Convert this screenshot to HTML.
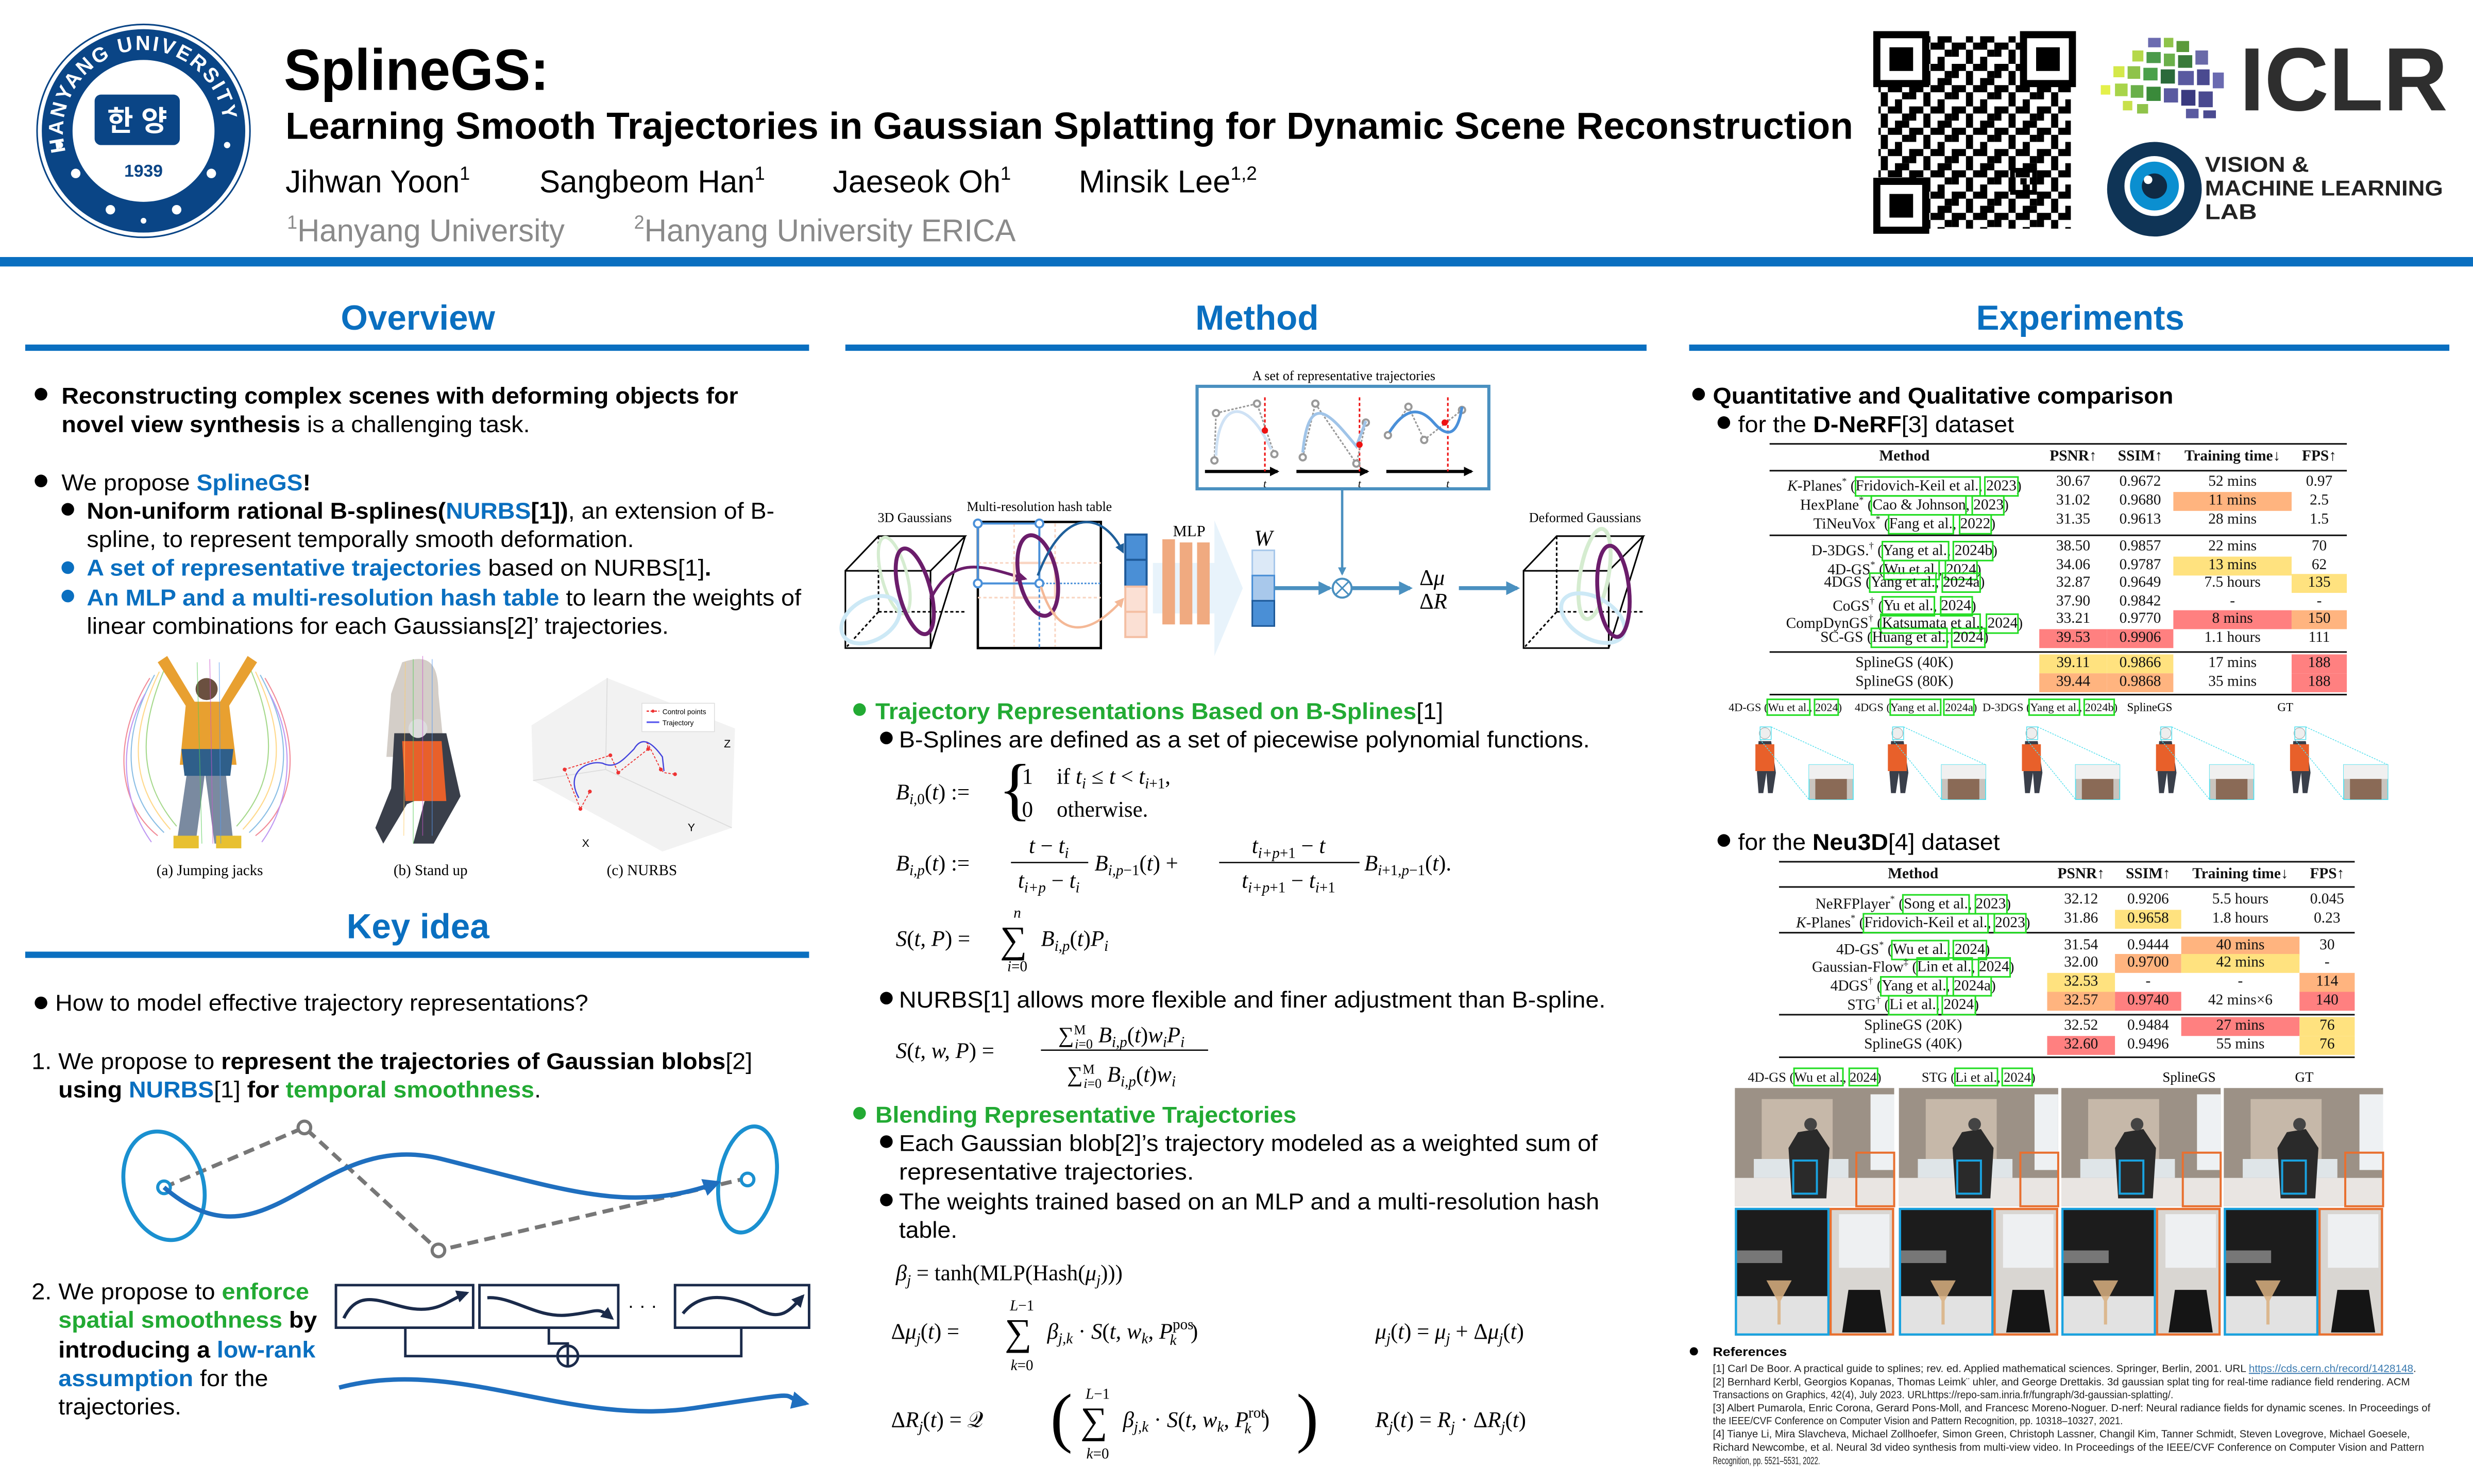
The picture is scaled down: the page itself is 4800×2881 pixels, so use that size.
<!DOCTYPE html>
<html><head><meta charset="utf-8">
<style>
html,body{margin:0;padding:0;background:#fff;}
body{width:4800px;height:2880px;overflow:hidden;position:relative;}
#s{position:absolute;left:0;top:0;width:1568px;height:941px;transform:scale(3.061224);transform-origin:0 0;}
svg{position:absolute;left:0;top:0;}
.r{position:absolute;height:12px;line-height:12px;font-family:"Liberation Serif",serif;font-size:9.6px;color:#111;}
.c{position:absolute;top:0;height:12px;text-align:center;white-space:nowrap;}
.g{outline:0.9px solid #22dd22;outline-offset:-0.3px;}
.o{background:#ffb47f}.y{background:#ffe27f}.d{background:#ff8080}
.h{font-weight:bold;}
.rule{position:absolute;background:#111;}
</style></head><body>
<div id="s">
<svg width="1568" height="941" viewBox="0 0 1568 941" font-family="Liberation Sans, sans-serif">
<defs>
<marker id="ab" viewBox="0 0 10 10" refX="8" refY="5" markerWidth="4" markerHeight="4" orient="auto"><path d="M0 0L10 5L0 10z" fill="#1f6fbf"/></marker>
<marker id="ak" viewBox="0 0 10 10" refX="8" refY="5" markerWidth="4" markerHeight="4" orient="auto"><path d="M0 0L10 5L0 10z" fill="#1a2a4a"/></marker>
<marker id="as" viewBox="0 0 10 10" refX="8" refY="5" markerWidth="3.5" markerHeight="3.5" orient="auto"><path d="M0 0L10 5L0 10z" fill="#4a90c0"/></marker>
<marker id="ap" viewBox="0 0 10 10" refX="8" refY="5" markerWidth="4" markerHeight="4" orient="auto"><path d="M0 0L10 5L0 10z" fill="#6b1d6b"/></marker>
<marker id="ad" viewBox="0 0 10 10" refX="8" refY="5" markerWidth="4" markerHeight="4" orient="auto"><path d="M0 0L10 5L0 10z" fill="#1f5f9a"/></marker>
<marker id="apc" viewBox="0 0 10 10" refX="8" refY="5" markerWidth="4" markerHeight="4" orient="auto"><path d="M0 0L10 5L0 10z" fill="#f4b896"/></marker>
<marker id="atk" viewBox="0 0 10 10" refX="8" refY="5" markerWidth="3" markerHeight="3" orient="auto"><path d="M0 0L10 5L0 10z" fill="#000"/></marker>
<pattern id="qr" width="27" height="27" patternUnits="userSpaceOnUse">
<rect x="0" y="0" width="4.5" height="4.5"/><rect x="9" y="0" width="9" height="4.5"/><rect x="22.5" y="0" width="4.5" height="9"/>
<rect x="4.5" y="4.5" width="4.5" height="9"/><rect x="13.5" y="9" width="4.5" height="4.5"/><rect x="18" y="4.5" width="4.5" height="4.5"/>
<rect x="0" y="13.5" width="4.5" height="4.5"/><rect x="9" y="13.5" width="9" height="4.5"/><rect x="22.5" y="13.5" width="4.5" height="9"/>
<rect x="4.5" y="18" width="4.5" height="9"/><rect x="13.5" y="22.5" width="9" height="4.5"/><rect x="18" y="18" width="4.5" height="4.5"/>
</pattern>
<path id="arc" d="M43 100 A51 51 0 1 1 139 100"/>
</defs>

<!-- ===== HEADER ===== -->
<circle cx="91" cy="83" r="67.5" fill="#fff" stroke="#0a4586" stroke-width="1"/>
<circle cx="91" cy="83" r="64.5" fill="#0a4586"/>
<circle cx="91" cy="83" r="45" fill="#fff"/>
<text font-size="13" font-weight="bold" fill="#fff" letter-spacing="1.2"><textPath href="#arc" startOffset="4">HANYANG UNIVERSITY</textPath></text>
<rect x="60" y="60" width="54" height="32" rx="4" fill="#0a4586"/>
<text x="87" y="83" text-anchor="middle" font-size="18" font-weight="bold" fill="#fff" font-family="Liberation Sans, Noto Sans CJK KR, sans-serif">한 양</text>
<text x="91" y="112" text-anchor="middle" font-size="11" font-weight="bold" fill="#0a4586">1939</text>
<g fill="#fff"><circle cx="48" cy="110" r="3"/><circle cx="134" cy="110" r="3"/><circle cx="70" cy="133" r="3"/><circle cx="112" cy="133" r="3"/><circle cx="91" cy="140" r="1.8"/><circle cx="38" cy="92" r="2"/><circle cx="144" cy="92" r="2"/></g>

<text x="180" y="57" font-size="37" font-weight="bold" textLength="168" lengthAdjust="spacingAndGlyphs">SplineGS:</text>
<text x="181" y="88" font-size="24" font-weight="bold" textLength="994" lengthAdjust="spacingAndGlyphs">Learning Smooth Trajectories in Gaussian Splatting for Dynamic Scene Reconstruction</text>
<g font-size="20">
<text x="181" y="122" textLength="117" lengthAdjust="spacingAndGlyphs">Jihwan Yoon<tspan font-size="12" dy="-8">1</tspan></text>
<text x="342" y="122" textLength="143" lengthAdjust="spacingAndGlyphs">Sangbeom Han<tspan font-size="12" dy="-8">1</tspan></text>
<text x="528" y="122" textLength="113" lengthAdjust="spacingAndGlyphs">Jaeseok Oh<tspan font-size="12" dy="-8">1</tspan></text>
<text x="684" y="122" textLength="113" lengthAdjust="spacingAndGlyphs">Minsik Lee<tspan font-size="12" dy="-8">1,2</tspan></text>
</g>
<g font-size="20" fill="#8a8a8a">
<text x="182" y="153" textLength="176" lengthAdjust="spacingAndGlyphs"><tspan font-size="12" dy="-8">1</tspan><tspan dy="8">Hanyang University</tspan></text>
<text x="402" y="153" textLength="242" lengthAdjust="spacingAndGlyphs"><tspan font-size="12" dy="-8">2</tspan><tspan dy="8">Hanyang University ERICA</tspan></text>
</g>

<!-- QR -->
<rect x="1188" y="20" width="128" height="128" fill="#fff"/>
<rect x="1191" y="23" width="122" height="122" fill="url(#qr)"/>
<g>
<rect x="1189" y="21" width="33" height="33" fill="#fff"/><rect x="1190" y="22" width="31" height="31" fill="none" stroke="#000" stroke-width="4.5"/><rect x="1198" y="30" width="15" height="15"/>
<rect x="1282" y="21" width="33" height="33" fill="#fff"/><rect x="1283" y="22" width="31" height="31" fill="none" stroke="#000" stroke-width="4.5"/><rect x="1291" y="30" width="15" height="15"/>
<rect x="1189" y="114" width="33" height="33" fill="#fff"/><rect x="1190" y="115" width="31" height="31" fill="none" stroke="#000" stroke-width="4.5"/><rect x="1198" y="123" width="15" height="15"/>
<rect x="1276" y="108" width="14" height="14" fill="none" stroke="#000" stroke-width="3"/><rect x="1281" y="113" width="4" height="4"/>
</g>

<!-- ICLR -->
<g>
<rect x="1362" y="24" width="8" height="6" fill="#6b6bb0"/><rect x="1372" y="24" width="6" height="6" fill="#8fc34a"/><rect x="1380" y="26" width="8" height="7" fill="#5a9a3a"/>
<rect x="1352" y="32" width="7" height="7" fill="#b5d84a"/><rect x="1361" y="33" width="9" height="7" fill="#4a9a4a"/><rect x="1372" y="34" width="7" height="8" fill="#6ab04a"/><rect x="1381" y="35" width="9" height="8" fill="#3a7a3a"/><rect x="1392" y="32" width="8" height="9" fill="#6a6aa8"/>
<rect x="1340" y="42" width="7" height="7" fill="#d4e84a"/><rect x="1349" y="42" width="8" height="8" fill="#8fc34a"/><rect x="1359" y="43" width="9" height="8" fill="#4aa04a"/><rect x="1370" y="44" width="9" height="9" fill="#2a6a3a"/><rect x="1381" y="45" width="10" height="9" fill="#5a5aa0"/><rect x="1393" y="44" width="8" height="10" fill="#4a4a90"/><rect x="1403" y="46" width="7" height="10" fill="#6a6ab0"/>
<rect x="1332" y="54" width="6" height="6" fill="#e4f04a"/><rect x="1341" y="53" width="8" height="8" fill="#a8d44a"/><rect x="1351" y="54" width="8" height="8" fill="#6ab04a"/><rect x="1361" y="55" width="9" height="9" fill="#3a8a3a"/><rect x="1372" y="56" width="9" height="9" fill="#5a5aa0"/><rect x="1383" y="57" width="9" height="10" fill="#3a3a80"/><rect x="1394" y="58" width="9" height="10" fill="#4a4a90"/>
<rect x="1346" y="64" width="6" height="6" fill="#c8e04a"/><rect x="1355" y="66" width="7" height="6" fill="#8fc34a"/><rect x="1386" y="69" width="8" height="6" fill="#5a5aa0"/><rect x="1397" y="70" width="8" height="5" fill="#4a4a90"/>
</g>
<text x="1420" y="70" font-size="57" font-weight="bold" fill="#2e2e2e" textLength="132" lengthAdjust="spacingAndGlyphs">ICLR</text>
<!-- VML -->
<circle cx="1366" cy="120" r="30" fill="#0f3456"/>
<circle cx="1366" cy="118" r="19" fill="#fff"/>
<circle cx="1366" cy="118" r="15.5" fill="#0b8fd0"/>
<circle cx="1366" cy="118" r="8" fill="#0f2a44"/>
<circle cx="1362" cy="114" r="2.7" fill="#fff"/>
<g font-size="13.5" font-weight="bold" fill="#222">
<text x="1398" y="109" textLength="66" lengthAdjust="spacingAndGlyphs">VISION &amp;</text>
<text x="1398" y="124" textLength="151" lengthAdjust="spacingAndGlyphs">MACHINE LEARNING</text>
<text x="1398" y="139" textLength="33" lengthAdjust="spacingAndGlyphs">LAB</text>
</g>

<rect x="0" y="163" width="1568" height="6" fill="#0a6fc0"/>

<!-- headings -->
<g font-size="22" font-weight="bold" fill="#0a6fc0" text-anchor="middle">
<text x="265" y="209">Overview</text>
<text x="797" y="209">Method</text>
<text x="1319" y="209">Experiments</text>
<text x="265" y="595">Key idea</text>
</g>
<g fill="#0a6fc0">
<rect x="16" y="218.5" width="497" height="4"/>
<rect x="536" y="218.5" width="508" height="4"/>
<rect x="1071" y="218.5" width="482" height="4"/>
<rect x="16" y="603.5" width="497" height="4"/>
</g>

<!-- ===== OVERVIEW TEXT ===== -->
<g font-size="14.5">
<circle cx="26" cy="250" r="4"/>
<text x="39" y="256" font-weight="bold" textLength="429" lengthAdjust="spacingAndGlyphs">Reconstructing complex scenes with deforming objects for</text>
<text x="39" y="274" textLength="297" lengthAdjust="spacingAndGlyphs"><tspan font-weight="bold">novel view synthesis</tspan> is a challenging task.</text>
<circle cx="26" cy="305" r="4"/>
<text x="39" y="311" textLength="158" lengthAdjust="spacingAndGlyphs">We propose <tspan font-weight="bold" fill="#0a6fc0">SplineGS</tspan><tspan font-weight="bold">!</tspan></text>
<circle cx="43" cy="323" r="4"/>
<text x="55" y="329" textLength="436" lengthAdjust="spacingAndGlyphs"><tspan font-weight="bold">Non-uniform rational B-splines(</tspan><tspan font-weight="bold" fill="#0a6fc0">NURBS</tspan><tspan font-weight="bold">[1])</tspan>, an extension of B-</text>
<text x="55" y="347" textLength="347" lengthAdjust="spacingAndGlyphs">spline, to represent temporally smooth deformation.</text>
<circle cx="43" cy="360" r="4" fill="#0a6fc0"/>
<text x="55" y="365" textLength="396" lengthAdjust="spacingAndGlyphs"><tspan font-weight="bold" fill="#0a6fc0">A set of representative trajectories</tspan> based on NURBS[1]<tspan font-weight="bold">.</tspan></text>
<circle cx="43" cy="378" r="4" fill="#0a6fc0"/>
<text x="55" y="384" textLength="453" lengthAdjust="spacingAndGlyphs"><tspan font-weight="bold" fill="#0a6fc0">An MLP and a multi-resolution hash table</tspan> to learn the weights of</text>
<text x="55" y="402" textLength="369" lengthAdjust="spacingAndGlyphs">linear combinations for each Gaussians[2]’ trajectories.</text>
</g>

<!-- figures (a) (b) (c) -->
<g fill="none" stroke-width="0.7" opacity="0.75">
<path d="M95 430 C70 470 75 510 100 530" stroke="#e67"/><path d="M98 428 C75 470 80 505 104 528" stroke="#6ad"/>
<path d="M101 426 C80 470 85 500 108 526" stroke="#fc6"/><path d="M104 425 C86 468 90 498 112 524" stroke="#8c6"/>
<path d="M92 440 C72 475 80 512 96 534" stroke="#a7e"/><path d="M168 430 C192 470 188 510 162 530" stroke="#e67"/>
<path d="M165 428 C188 470 183 505 158 528" stroke="#6ad"/><path d="M162 426 C183 470 178 500 154 526" stroke="#fc6"/>
<path d="M159 425 C177 468 173 498 150 524" stroke="#8c6"/><path d="M171 440 C190 475 182 512 166 534" stroke="#a7e"/>
</g>
<g>
<path d="M120 480 L112 535 L124 535 L130 490 L136 535 L148 535 L142 480z" fill="#7a8aa0"/>
<path d="M118 445 L145 445 L150 485 L114 485z" fill="#e8a030"/>
<path d="M118 448 L100 420 L106 416 L124 446z" fill="#e8a030"/>
<path d="M145 448 L163 420 L157 416 L139 446z" fill="#e8a030"/>
<circle cx="131" cy="437" r="7" fill="#6b5040"/>
<path d="M115 475 L148 475 L146 492 L117 492z" fill="#2f5f8a"/>
<rect x="110" y="530" width="16" height="8" fill="#e8c030"/><rect x="137" y="530" width="16" height="8" fill="#e8c030"/>
<g stroke-width="0.5" opacity="0.6"><line x1="125" y1="420" x2="128" y2="535" stroke="#5c5"/><line x1="133" y1="418" x2="135" y2="535" stroke="#c5c"/><line x1="139" y1="420" x2="140" y2="535" stroke="#59e"/></g>
</g>
<g>
<path d="M255 420 C270 415 278 418 278 440 L282 480 L245 480 L248 440z" fill="#c9c2ba" opacity="0.8"/>
<path d="M250 465 L283 465 L292 505 L275 535 L262 535 L270 505 L258 510 L243 535 L238 525 L248 500z" fill="#3a3f4a"/>
<path d="M255 470 L280 470 L283 508 L257 508z" fill="#e8602a"/>
<circle cx="265" cy="462" r="6" fill="#ddd"/>
<g stroke-width="0.5" opacity="0.6"><line x1="262" y1="418" x2="262" y2="535" stroke="#5c5"/><line x1="268" y1="416" x2="268" y2="530" stroke="#c5c"/><line x1="274" y1="418" x2="274" y2="530" stroke="#59e"/><line x1="257" y1="420" x2="256" y2="530" stroke="#fc6"/></g>
</g>
<g>
<polygon points="337,460 385,430 466,462 464,525 420,540 338,495" fill="#f2f2f2"/>
<polyline points="385,430 384,488 338,495" fill="none" stroke="#ddd" stroke-width="0.6"/>
<line x1="384" y1="488" x2="464" y2="525" stroke="#ddd" stroke-width="0.6"/>
<rect x="407" y="446" width="46" height="18" fill="#fff" stroke="#ddd" stroke-width="0.5"/>
<line x1="410" y1="451" x2="418" y2="451" stroke="#e33" stroke-dasharray="1.5 1" stroke-width="0.8"/><circle cx="414" cy="451" r="1" fill="#e33"/>
<line x1="410" y1="458" x2="418" y2="458" stroke="#55e" stroke-width="1"/>
<text x="420" y="453" font-size="4.5">Control points</text><text x="420" y="460" font-size="4.5">Trajectory</text>
<polyline points="358,488 387,479 392,490 411,475 410,470 419,488 421,490 428,491" fill="none" stroke="#e33" stroke-width="0.6" stroke-dasharray="1.5 1"/>
<polyline points="358,488 368,513 374,502" fill="none" stroke="#e33" stroke-width="0.6" stroke-dasharray="1.5 1"/>
<g fill="#e33"><circle cx="358" cy="488" r="1.2"/><circle cx="387" cy="479" r="1.2"/><circle cx="392" cy="490" r="1.2"/><circle cx="411" cy="475" r="1.2"/><circle cx="419" cy="488" r="1.2"/><circle cx="428" cy="491" r="1.2"/><circle cx="368" cy="513" r="1.2"/><circle cx="374" cy="502" r="1.2"/></g>
<path d="M367 506 C358 490 372 482 382 484 C390 488 395 482 402 475 C405 470 410 466 420 480 L421 489" fill="none" stroke="#44d" stroke-width="0.8"/>
<text x="459" y="474" font-size="7">Z</text><text x="436" y="527" font-size="7">Y</text><text x="369" y="537" font-size="7">X</text>
</g>
<g font-family="Liberation Serif, serif" font-size="9.5" text-anchor="middle">
<text x="133" y="555">(a) Jumping jacks</text>
<text x="273" y="555">(b) Stand up</text>
<text x="407" y="555">(c) NURBS</text>
</g>

<!-- ===== KEY IDEA ===== -->
<g font-size="14.5">
<circle cx="26" cy="636" r="4"/>
<text x="35" y="641" textLength="338" lengthAdjust="spacingAndGlyphs">How to model effective trajectory representations?</text>
<text x="20" y="678" textLength="457" lengthAdjust="spacingAndGlyphs">1. We propose to <tspan font-weight="bold">represent the trajectories of Gaussian blobs</tspan>[2]</text>
<text x="37" y="696" textLength="306" lengthAdjust="spacingAndGlyphs"><tspan font-weight="bold">using </tspan><tspan font-weight="bold" fill="#0a6fc0">NURBS</tspan>[1] <tspan font-weight="bold">for </tspan><tspan font-weight="bold" fill="#22aa33">temporal smoothness</tspan>.</text>
<text x="20" y="824" textLength="176" lengthAdjust="spacingAndGlyphs">2. We propose to <tspan font-weight="bold" fill="#22aa33">enforce</tspan></text>
<text x="37" y="842" textLength="164" lengthAdjust="spacingAndGlyphs"><tspan font-weight="bold" fill="#22aa33">spatial smoothness</tspan><tspan font-weight="bold"> by</tspan></text>
<text x="37" y="861" textLength="163" lengthAdjust="spacingAndGlyphs"><tspan font-weight="bold">introducing a </tspan><tspan font-weight="bold" fill="#0a6fc0">low-rank</tspan></text>
<text x="37" y="879" textLength="133" lengthAdjust="spacingAndGlyphs"><tspan font-weight="bold" fill="#0a6fc0">assumption</tspan> for the</text>
<text x="37" y="897" textLength="78" lengthAdjust="spacingAndGlyphs">trajectories.</text>
</g>
<!-- key idea fig 1 -->
<polyline points="104,753 193,715 278,793 470,748" fill="none" stroke="#777" stroke-width="2.5" stroke-dasharray="7 4"/>
<circle cx="193" cy="715" r="4" fill="#fff" stroke="#777" stroke-width="2"/>
<circle cx="278" cy="793" r="4" fill="#fff" stroke="#777" stroke-width="2"/>
<ellipse cx="104" cy="752" rx="25" ry="35" transform="rotate(-15 104 752)" fill="none" stroke="#1a90d0" stroke-width="2.5"/>
<circle cx="104" cy="753" r="4" fill="#fff" stroke="#1a90d0" stroke-width="2"/>
<ellipse cx="474" cy="748" rx="18" ry="34" transform="rotate(10 474 748)" fill="none" stroke="#1a90d0" stroke-width="2.5"/>
<circle cx="474" cy="748" r="4" fill="#fff" stroke="#1a90d0" stroke-width="2"/>
<path d="M104 753 C 170 810, 200 715, 280 735 S 400 770, 455 750" fill="none" stroke="#1f6fbf" stroke-width="2.8" marker-end="url(#ab)"/>
<!-- key idea fig 2 -->
<g fill="none" stroke="#1a2a4a" stroke-width="1.6">
<rect x="213" y="815" width="87" height="27"/>
<rect x="304" y="815" width="88" height="27"/>
<rect x="428" y="815" width="85" height="27"/>
<path d="M218 836 C 228 815, 245 828, 262 830 S 285 824 296 820" stroke-width="2" marker-end="url(#ak)"/>
<path d="M309 823 C 325 822, 340 836, 360 834 S 378 828 388 836" stroke-width="2" marker-end="url(#ak)"/>
<path d="M433 833 C 445 818, 465 822, 480 830 S 500 832 509 822" stroke-width="2" marker-end="url(#ak)"/>
<polyline points="257,842 257,860 353,860"/>
<polyline points="348,842 348,852 360,852 360,853"/>
<polyline points="470,842 470,860 367,860"/>
<circle cx="360" cy="860" r="6.5"/>
<line x1="353.5" y1="860" x2="366.5" y2="860"/><line x1="360" y1="853.5" x2="360" y2="866.5"/>
</g>
<text x="398" y="832" font-size="12">· · ·</text>
<path d="M215 880 C 290 860, 360 905, 440 893 S 490 885 511 890" fill="none" stroke="#1f6fbf" stroke-width="2.8" marker-end="url(#ab)"/>

<!-- ===== METHOD DIAGRAM ===== -->
<g font-family="Liberation Serif, serif">
<text x="852" y="241" font-size="8.5" text-anchor="middle">A set of representative trajectories</text>
<rect x="759" y="245" width="185" height="65" fill="#fff" stroke="#4a90c0" stroke-width="2"/>
<g stroke="#000" stroke-width="2"><line x1="764" y1="299" x2="810" y2="299" marker-end="url(#atk)"/><line x1="822" y1="299" x2="867" y2="299" marker-end="url(#atk)"/><line x1="879" y1="299" x2="933" y2="299" marker-end="url(#atk)"/></g>
<g stroke="#e11" stroke-width="1" stroke-dasharray="2 1.5"><line x1="802" y1="252" x2="802" y2="299"/><line x1="862" y1="252" x2="862" y2="299"/><line x1="918" y1="252" x2="918" y2="299"/></g>
<g fill="none" stroke="#999" stroke-width="1" stroke-dasharray="1.5 1"><polyline points="770,292 771,262 797,256 808,288"/><polyline points="826,290 834,256 860,294 866,268"/><polyline points="880,276 893,258 903,279 927,260"/></g>
<g fill="#fff" stroke="#999" stroke-width="1.3"><circle cx="770" cy="292" r="2"/><circle cx="771" cy="262" r="2"/><circle cx="797" cy="256" r="2"/><circle cx="808" cy="288" r="2"/><circle cx="826" cy="290" r="2"/><circle cx="834" cy="256" r="2"/><circle cx="860" cy="294" r="2"/><circle cx="866" cy="268" r="2"/><circle cx="880" cy="276" r="2"/><circle cx="893" cy="258" r="2"/><circle cx="903" cy="279" r="2"/><circle cx="927" cy="260" r="2"/></g>
<path d="M771 289 C 772 255, 790 250, 806 285" fill="none" stroke="#cfe2f5" stroke-width="1.8"/>
<path d="M826 287 C 830 245, 845 265, 860 283 L 866 267" fill="none" stroke="#a0c4e8" stroke-width="1.8"/>
<path d="M881 274 Q 895 252 909 268 T 927 258" fill="none" stroke="#4a90d9" stroke-width="1.8"/>
<g fill="#e11"><circle cx="802" cy="273" r="2"/><circle cx="862" cy="282" r="2"/><circle cx="916" cy="268" r="2"/></g>
<g font-size="7" font-style="italic"><text x="801" y="309">t</text><text x="861" y="309">t</text><text x="917" y="309">t</text></g>
<line x1="851" y1="310" x2="851" y2="364" stroke="#4a90c0" stroke-width="1.5" marker-end="url(#as)"/>

<text x="580" y="331" font-size="8.5" text-anchor="middle">3D Gaussians</text>
<text x="659" y="324" font-size="8.5" text-anchor="middle">Multi-resolution hash table</text>
<text x="1005" y="331" font-size="8.5" text-anchor="middle">Deformed Gaussians</text>
<text x="754" y="340" font-size="10" text-anchor="middle">MLP</text>
<text x="801" y="346" font-size="14" font-style="italic" text-anchor="middle">W</text>
<text x="900" y="371" font-size="14">Δ<tspan font-style="italic">μ</tspan></text>
<text x="900" y="386" font-size="14">Δ<tspan font-style="italic">R</tspan></text>
</g>
<!-- left cube -->
<g fill="none" stroke="#000" stroke-width="1">
<rect x="536" y="362" width="54" height="49"/>
<polyline points="536,362 557,340 612,340 590,362"/>
<line x1="612" y1="340" x2="590" y2="411"/>
<line x1="557" y1="340" x2="557" y2="388" stroke-dasharray="2 1.5"/>
<line x1="557" y1="388" x2="612" y2="388" stroke-dasharray="2 1.5"/>
<line x1="557" y1="388" x2="537" y2="410" stroke-dasharray="2 1.5"/>
</g>
<ellipse cx="567" cy="365" rx="8" ry="25" transform="rotate(-15 567 365)" fill="none" stroke="#d5ecd0" stroke-width="2"/>
<ellipse cx="552" cy="393" rx="20" ry="13" transform="rotate(-30 552 393)" fill="none" stroke="#cde9f6" stroke-width="2.5"/>
<ellipse cx="580" cy="375" rx="10" ry="28" transform="rotate(-15 580 375)" fill="none" stroke="#6b1d6b" stroke-width="2.5"/>
<path d="M590 380 C 605 350, 625 360, 650 367" fill="none" stroke="#6b1d6b" stroke-width="1.8" marker-end="url(#ap)"/>
<!-- hash box -->
<rect x="620" y="331" width="78" height="80" fill="none" stroke="#000" stroke-width="1.5"/>
<g stroke="#f9d5c2" stroke-width="1" fill="none" stroke-dasharray="2 1.5"><line x1="643" y1="332" x2="643" y2="410"/><line x1="669" y1="332" x2="669" y2="410"/><line x1="620" y1="357" x2="698" y2="357"/><line x1="620" y1="379" x2="698" y2="379"/></g>
<rect x="643" y="357" width="26" height="22" fill="none" stroke="#f9d5c2" stroke-width="1.5"/>
<rect x="620" y="332" width="39" height="38" fill="none" stroke="#4a90d9" stroke-width="1.3"/>
<line x1="659" y1="370" x2="698" y2="370" stroke="#4a90d9" stroke-dasharray="1.2 1"/>
<line x1="659" y1="370" x2="659" y2="411" stroke="#4a90d9" stroke-dasharray="2 1.5"/>
<g fill="#fff" stroke="#4a90d9" stroke-width="1.3"><circle cx="620" cy="332" r="2.5"/><circle cx="659" cy="332" r="2.5"/><circle cx="620" cy="370" r="2.5"/><circle cx="659" cy="370" r="2.5"/></g>
<ellipse cx="658" cy="365" rx="12" ry="26" transform="rotate(-12 658 365)" fill="none" stroke="#6b1d6b" stroke-width="2.5"/>
<path d="M658 365 C 675 320, 700 325, 712 350" fill="none" stroke="#1f5f9a" stroke-width="1.5" marker-end="url(#ad)"/>
<path d="M660 372 C 670 405, 690 405, 712 380" fill="none" stroke="#f4b896" stroke-width="1.5" marker-end="url(#apc)"/>
<!-- columns -->
<rect x="713.5" y="339" width="13.5" height="33" fill="#4a8fd6" stroke="#1e5a9a" stroke-width="1.3"/>
<line x1="713.5" y1="355" x2="727" y2="355" stroke="#1e5a9a" stroke-width="1.3"/>
<rect x="713.5" y="372" width="13.5" height="32" fill="#fbe0d4" stroke="#f4bfa3" stroke-width="1.3"/>
<line x1="713.5" y1="388" x2="727" y2="388" stroke="#f4bfa3" stroke-width="1.3"/>
<polygon points="731,357 770,357 770,330 788,373 770,416 770,389 731,389" fill="#e8f3fb"/>
<g fill="#f0aa80"><rect x="737" y="342" width="8" height="54"/><rect x="748" y="344" width="8" height="52"/><rect x="759" y="344" width="8" height="52"/></g>
<rect x="794" y="349" width="14" height="16" fill="#dce9f7" stroke="#a8c8eb"/>
<rect x="794" y="365" width="14" height="16" fill="#a8c8eb" stroke="#4a8fd6"/>
<rect x="794" y="381" width="14" height="16" fill="#4a8fd6" stroke="#1e5a9a"/>
<g stroke="#4a90c0" stroke-width="2.5" fill="none">
<line x1="808" y1="373" x2="843" y2="373" marker-end="url(#as)"/>
<line x1="857" y1="373" x2="894" y2="373" marker-end="url(#as)"/>
<line x1="925" y1="373" x2="962" y2="373" marker-end="url(#as)"/>
</g>
<circle cx="851" cy="373" r="6" fill="#fff" stroke="#4a90c0" stroke-width="1.3"/>
<g stroke="#4a90c0" stroke-width="1"><line x1="847" y1="369" x2="855" y2="377"/><line x1="855" y1="369" x2="847" y2="377"/></g>
<!-- right cube -->
<g fill="none" stroke="#000" stroke-width="1">
<rect x="966" y="362" width="54" height="49"/>
<polyline points="966,362 987,340 1042,340 1020,362"/>
<line x1="1042" y1="340" x2="1020" y2="411"/>
<line x1="987" y1="340" x2="987" y2="388" stroke-dasharray="2 1.5"/>
<line x1="987" y1="388" x2="1042" y2="388" stroke-dasharray="2 1.5"/>
<line x1="987" y1="388" x2="967" y2="410" stroke-dasharray="2 1.5"/>
</g>
<ellipse cx="1011" cy="364" rx="9" ry="29" transform="rotate(10 1011 364)" fill="none" stroke="#d5ecd0" stroke-width="2.5"/>
<ellipse cx="1010" cy="392" rx="22" ry="13" transform="rotate(30 1010 392)" fill="none" stroke="#cde9f6" stroke-width="2.5"/>
<ellipse cx="1023" cy="375" rx="10" ry="29" transform="rotate(-5 1023 375)" fill="none" stroke="#6b1d6b" stroke-width="2.5"/>

<!-- ===== METHOD TEXT ===== -->
<g font-size="14.5">
<circle cx="545" cy="450" r="4" fill="#22aa33"/>
<text x="555" y="456" textLength="360" lengthAdjust="spacingAndGlyphs"><tspan font-weight="bold" fill="#22aa33">Trajectory Representations Based on B-Splines</tspan>[1]</text>
<circle cx="562" cy="468" r="4"/>
<text x="570" y="474" textLength="438" lengthAdjust="spacingAndGlyphs">B-Splines are defined as a set of piecewise polynomial functions.</text>
<circle cx="562" cy="633" r="4"/>
<text x="570" y="639" textLength="448" lengthAdjust="spacingAndGlyphs">NURBS[1] allows more flexible and finer adjustment than B-spline.</text>
<circle cx="545" cy="706" r="4" fill="#22aa33"/>
<text x="555" y="712" font-weight="bold" fill="#22aa33" textLength="267" lengthAdjust="spacingAndGlyphs">Blending Representative Trajectories</text>
<circle cx="562" cy="724" r="4"/>
<text x="570" y="730" textLength="443" lengthAdjust="spacingAndGlyphs">Each Gaussian blob[2]’s trajectory modeled as a weighted sum of</text>
<text x="570" y="748" textLength="187" lengthAdjust="spacingAndGlyphs">representative trajectories.</text>
<circle cx="562" cy="761" r="4"/>
<text x="570" y="767" textLength="444" lengthAdjust="spacingAndGlyphs">The weights trained based on an MLP and a multi-resolution hash</text>
<text x="570" y="785" textLength="37" lengthAdjust="spacingAndGlyphs">table.</text>
</g>
<!-- equations -->
<g font-family="Liberation Serif, serif" font-size="14">
<text x="568" y="507"><tspan font-style="italic">B</tspan><tspan font-size="9.5" font-style="italic" dy="3">i</tspan><tspan font-size="9.5" dy="0">,0</tspan><tspan dy="-3">(</tspan><tspan font-style="italic">t</tspan>) :=</text>
<text x="633" y="515" font-size="44">{</text>
<text x="648" y="497">1</text>
<text x="670" y="497">if <tspan font-style="italic">t</tspan><tspan font-size="9.5" font-style="italic" dy="3">i</tspan><tspan dy="-3"> ≤ </tspan><tspan font-style="italic">t</tspan> &lt; <tspan font-style="italic">t</tspan><tspan font-size="9.5" font-style="italic" dy="3">i</tspan><tspan font-size="9.5" dy="0">+1</tspan><tspan dy="-3">,</tspan></text>
<text x="648" y="518">0</text>
<text x="670" y="518">otherwise.</text>

<text x="568" y="552"><tspan font-style="italic">B</tspan><tspan font-size="9.5" font-style="italic" dy="3">i,p</tspan><tspan dy="-3">(</tspan><tspan font-style="italic">t</tspan>) :=</text>
<text x="665" y="541" text-anchor="middle"><tspan font-style="italic">t</tspan> − <tspan font-style="italic">t</tspan><tspan font-size="9.5" font-style="italic" dy="3">i</tspan></text>
<line x1="641" y1="547" x2="690" y2="547" stroke="#000" stroke-width="0.8"/>
<text x="665" y="563" text-anchor="middle"><tspan font-style="italic">t</tspan><tspan font-size="9.5" font-style="italic" dy="3">i+p</tspan><tspan dy="-3"> − </tspan><tspan font-style="italic">t</tspan><tspan font-size="9.5" font-style="italic" dy="3">i</tspan></text>
<text x="694" y="552"><tspan font-style="italic">B</tspan><tspan font-size="9.5" font-style="italic" dy="3">i,p</tspan><tspan font-size="9.5" dy="0">−1</tspan><tspan dy="-3">(</tspan><tspan font-style="italic">t</tspan>) +</text>
<text x="817" y="541" text-anchor="middle"><tspan font-style="italic">t</tspan><tspan font-size="9.5" font-style="italic" dy="3">i+p</tspan><tspan font-size="9.5" dy="0">+1</tspan><tspan dy="-3"> − </tspan><tspan font-style="italic">t</tspan></text>
<line x1="773" y1="547" x2="862" y2="547" stroke="#000" stroke-width="0.8"/>
<text x="817" y="563" text-anchor="middle"><tspan font-style="italic">t</tspan><tspan font-size="9.5" font-style="italic" dy="3">i+p</tspan><tspan font-size="9.5" dy="0">+1</tspan><tspan dy="-3"> − </tspan><tspan font-style="italic">t</tspan><tspan font-size="9.5" font-style="italic" dy="3">i</tspan><tspan font-size="9.5" dy="0">+1</tspan></text>
<text x="865" y="552"><tspan font-style="italic">B</tspan><tspan font-size="9.5" font-style="italic" dy="3">i</tspan><tspan font-size="9.5" dy="0">+1,</tspan><tspan font-size="9.5" font-style="italic" dy="0">p</tspan><tspan font-size="9.5" dy="0">−1</tspan><tspan dy="-3">(</tspan><tspan font-style="italic">t</tspan>).</text>

<text x="568" y="600"><tspan font-style="italic">S</tspan>(<tspan font-style="italic">t, P</tspan>) =</text>
<text x="634" y="604" font-size="24">∑</text>
<text x="645" y="582" font-size="9.5" font-style="italic" text-anchor="middle">n</text>
<text x="645" y="616" font-size="9.5" text-anchor="middle"><tspan font-style="italic">i</tspan>=0</text>
<text x="660" y="600"><tspan font-style="italic">B</tspan><tspan font-size="9.5" font-style="italic" dy="3">i,p</tspan><tspan dy="-3">(</tspan><tspan font-style="italic">t</tspan>)<tspan font-style="italic">P</tspan><tspan font-size="9.5" font-style="italic" dy="3">i</tspan></text>

<text x="568" y="671"><tspan font-style="italic">S</tspan>(<tspan font-style="italic">t, w, P</tspan>) =</text>
<text x="711" y="661" text-anchor="middle">∑<tspan font-size="8.5" dy="-5">M</tspan><tspan font-size="8.5" dx="-7" dy="9"><tspan font-style="italic">i</tspan>=0</tspan><tspan dy="-4"> </tspan><tspan font-style="italic">B</tspan><tspan font-size="9.5" font-style="italic" dy="3">i,p</tspan><tspan dy="-3">(</tspan><tspan font-style="italic">t</tspan>)<tspan font-style="italic">w</tspan><tspan font-size="9.5" font-style="italic" dy="3">i</tspan><tspan font-style="italic" dy="-3">P</tspan><tspan font-size="9.5" font-style="italic" dy="3">i</tspan></text>
<line x1="660" y1="666" x2="766" y2="666" stroke="#000" stroke-width="0.8"/>
<text x="711" y="686" text-anchor="middle">∑<tspan font-size="8.5" dy="-5">M</tspan><tspan font-size="8.5" dx="-7" dy="9"><tspan font-style="italic">i</tspan>=0</tspan><tspan dy="-4"> </tspan><tspan font-style="italic">B</tspan><tspan font-size="9.5" font-style="italic" dy="3">i,p</tspan><tspan dy="-3">(</tspan><tspan font-style="italic">t</tspan>)<tspan font-style="italic">w</tspan><tspan font-size="9.5" font-style="italic" dy="3">i</tspan></text>

<text x="568" y="812"><tspan font-style="italic">β</tspan><tspan font-size="9.5" font-style="italic" dy="3">j</tspan><tspan dy="-3"> = tanh(MLP(Hash(</tspan><tspan font-style="italic">μ</tspan><tspan font-size="9.5" font-style="italic" dy="3">j</tspan><tspan dy="-3">)))</tspan></text>

<text x="565" y="849">Δ<tspan font-style="italic">μ</tspan><tspan font-size="9.5" font-style="italic" dy="3">j</tspan><tspan dy="-3">(</tspan><tspan font-style="italic">t</tspan>) =</text>
<text x="637" y="853" font-size="24">∑</text>
<text x="648" y="831" font-size="9.5" text-anchor="middle"><tspan font-style="italic">L</tspan>−1</text>
<text x="648" y="869" font-size="9.5" text-anchor="middle"><tspan font-style="italic">k</tspan>=0</text>
<text x="664" y="849"><tspan font-style="italic">β</tspan><tspan font-size="9.5" font-style="italic" dy="3">j,k</tspan><tspan dy="-3"> · </tspan><tspan font-style="italic">S</tspan>(<tspan font-style="italic">t, w</tspan><tspan font-size="9.5" font-style="italic" dy="3">k</tspan><tspan dy="-3">, </tspan><tspan font-style="italic">P</tspan><tspan font-size="9.5" dy="-6">pos</tspan><tspan font-size="9.5" font-style="italic" dx="-15" dy="10">k</tspan><tspan dx="9" dy="-4">)</tspan></text>
<text x="872" y="849"><tspan font-style="italic">μ</tspan><tspan font-size="9.5" font-style="italic" dy="3">j</tspan><tspan dy="-3">(</tspan><tspan font-style="italic">t</tspan>) = <tspan font-style="italic">μ</tspan><tspan font-size="9.5" font-style="italic" dy="3">j</tspan><tspan dy="-3"> + Δ</tspan><tspan font-style="italic">μ</tspan><tspan font-size="9.5" font-style="italic" dy="3">j</tspan><tspan dy="-3">(</tspan><tspan font-style="italic">t</tspan>)</text>

<text x="565" y="905">Δ<tspan font-style="italic">R</tspan><tspan font-size="9.5" font-style="italic" dy="3">j</tspan><tspan dy="-3">(</tspan><tspan font-style="italic">t</tspan>) = 𝒬</text>
<text x="666" y="913" font-size="42">(</text>
<text x="685" y="909" font-size="24">∑</text>
<text x="696" y="887" font-size="9.5" text-anchor="middle"><tspan font-style="italic">L</tspan>−1</text>
<text x="696" y="925" font-size="9.5" text-anchor="middle"><tspan font-style="italic">k</tspan>=0</text>
<text x="712" y="905"><tspan font-style="italic">β</tspan><tspan font-size="9.5" font-style="italic" dy="3">j,k</tspan><tspan dy="-3"> · </tspan><tspan font-style="italic">S</tspan>(<tspan font-style="italic">t, w</tspan><tspan font-size="9.5" font-style="italic" dy="3">k</tspan><tspan dy="-3">, </tspan><tspan font-style="italic">P</tspan><tspan font-size="9.5" dy="-6">rot</tspan><tspan font-size="9.5" font-style="italic" dx="-13" dy="10">k</tspan><tspan dx="7" dy="-4">)</tspan></text>
<text x="822" y="913" font-size="42">)</text>
<text x="872" y="905"><tspan font-style="italic">R</tspan><tspan font-size="9.5" font-style="italic" dy="3">j</tspan><tspan dy="-3">(</tspan><tspan font-style="italic">t</tspan>) = <tspan font-style="italic">R</tspan><tspan font-size="9.5" font-style="italic" dy="3">j</tspan><tspan dy="-3"> · Δ</tspan><tspan font-style="italic">R</tspan><tspan font-size="9.5" font-style="italic" dy="3">j</tspan><tspan dy="-3">(</tspan><tspan font-style="italic">t</tspan>)</text>
</g>

<!-- ===== EXPERIMENTS TEXT ===== -->
<g font-size="14.5">
<circle cx="1077" cy="250" r="4"/>
<text x="1086" y="256" font-weight="bold" textLength="292" lengthAdjust="spacingAndGlyphs">Quantitative and Qualitative comparison</text>
<circle cx="1093" cy="268" r="4"/>
<text x="1102" y="274" textLength="175" lengthAdjust="spacingAndGlyphs">for the <tspan font-weight="bold">D-NeRF</tspan>[3] dataset</text>
<circle cx="1093" cy="533" r="4"/>
<text x="1102" y="539" textLength="166" lengthAdjust="spacingAndGlyphs">for the <tspan font-weight="bold">Neu3D</tspan>[4] dataset</text>
</g>

<!-- D-NeRF images -->
<g id="dn">
<path d="M1115 470 L1123 470 L1126 490 L1124 503 L1121 503 L1120 490 L1118 503 L1115 503 L1114 490z" fill="#3a3f4a"/>
<path d="M1113 472 L1125 472 L1125 489 L1113 489z" fill="#e8602a"/>
<circle cx="1119" cy="465" r="3.5" fill="#eee" stroke="#999" stroke-width="0.3"/>
<rect x="1116" y="461" width="7" height="8" fill="none" stroke="#55e0ee" stroke-width="0.5"/>
<g stroke="#55e0ee" stroke-width="0.5" stroke-dasharray="1 0.7"><line x1="1123" y1="461" x2="1175" y2="485"/><line x1="1116" y1="469" x2="1147" y2="507"/></g>
<rect x="1147" y="485" width="28" height="22" fill="#c9c4be" stroke="#55e0ee" stroke-width="0.6"/>
<rect x="1147" y="485" width="28" height="9" fill="#f0f0f0"/>
<rect x="1151" y="494" width="20" height="13" fill="#8a6a56"/>
</g>
<use href="#dn" x="84"/><use href="#dn" x="169"/><use href="#dn" x="254"/><use href="#dn" x="339"/>
<g font-family="Liberation Serif, serif" font-size="7.5">
<text x="1363" y="451" text-anchor="middle">SplineGS</text>
<text x="1449" y="451" text-anchor="middle">GT</text>
<text x="1388" y="686" text-anchor="middle" font-size="8.8">SplineGS</text>
<text x="1461" y="686" text-anchor="middle" font-size="8.8">GT</text>
</g>

<!-- Neu3D images -->
<g id="nu">
<rect x="1100" y="690" width="101" height="75" fill="#9c9186"/>
<rect x="1117" y="697" width="45" height="38" fill="#c6b8a9"/>
<rect x="1112" y="735" width="60" height="12" fill="#dfe5e8"/>
<rect x="1186" y="694" width="15" height="48" fill="#eef1f3"/>
<rect x="1100" y="747" width="101" height="18" fill="#e9e5e2"/>
<path d="M1140 718 L1152 716 L1160 728 L1158 760 L1136 760 L1134 728z" fill="#2a2a2a"/>
<circle cx="1148" cy="713" r="4" fill="#444"/>
<rect x="1137" y="736" width="15" height="21" fill="none" stroke="#1aa3e0" stroke-width="1.3"/>
<rect x="1177" y="731" width="24" height="34" fill="none" stroke="#e87030" stroke-width="1.3"/>
<rect x="1100" y="766" width="60" height="81" fill="#1c1c1c"/>
<rect x="1101" y="822" width="58" height="24" fill="#e2e2e2"/>
<rect x="1100" y="793" width="30" height="8" fill="#777"/>
<path d="M1120 812 L1136 812 L1129 825 L1129 840 L1127 840 L1127 825z" fill="#d9b080" opacity="0.85"/>
<rect x="1100.7" y="766.7" width="58.6" height="79.6" fill="none" stroke="#1aa3e0" stroke-width="1.4"/>
<rect x="1160" y="766" width="41" height="81" fill="#d9d6d2"/>
<rect x="1166" y="770" width="32" height="34" fill="#eef0f2"/>
<path d="M1172 818 L1192 818 L1196 845 L1168 845z" fill="#151515"/>
<rect x="1160.7" y="766.7" width="39.6" height="79.6" fill="none" stroke="#e87030" stroke-width="1.4"/>
</g>
<use href="#nu" x="104"/><use href="#nu" x="207"/><use href="#nu" x="310"/>

<!-- References -->
<circle cx="1074" cy="857" r="2.6"/>
<text x="1086" y="860" font-size="8" font-weight="bold" textLength="47" lengthAdjust="spacingAndGlyphs">References</text>
<g font-size="6.6" fill="#222">
<text x="1086" y="870" textLength="446" lengthAdjust="spacingAndGlyphs">[1] Carl De Boor. A practical guide to splines; rev. ed. Applied mathematical sciences. Springer, Berlin, 2001. URL <tspan fill="#3a7ab0" text-decoration="underline">https://cds.cern.ch/record/1428148</tspan>.</text>
<text x="1086" y="878.5" textLength="442" lengthAdjust="spacingAndGlyphs">[2] Bernhard Kerbl, Georgios Kopanas, Thomas Leimk¨ uhler, and George Drettakis. 3d gaussian splat ting for real-time radiance field rendering. ACM</text>
<text x="1086" y="886.7" textLength="292" lengthAdjust="spacingAndGlyphs">Transactions on Graphics, 42(4), July 2023. URLhttps://repo-sam.inria.fr/fungraph/3d-gaussian-splatting/.</text>
<text x="1086" y="895" textLength="455" lengthAdjust="spacingAndGlyphs">[3] Albert Pumarola, Enric Corona, Gerard Pons-Moll, and Francesc Moreno-Noguer. D-nerf: Neural radiance fields for dynamic scenes. In Proceedings of</text>
<text x="1086" y="903.2" textLength="260" lengthAdjust="spacingAndGlyphs">the IEEE/CVF Conference on Computer Vision and Pattern Recognition, pp. 10318–10327, 2021.</text>
<text x="1086" y="911.6" textLength="442" lengthAdjust="spacingAndGlyphs">[4] Tianye Li, Mira Slavcheva, Michael Zollhoefer, Simon Green, Christoph Lassner, Changil Kim, Tanner Schmidt, Steven Lovegrove, Michael Goesele,</text>
<text x="1086" y="920" textLength="451" lengthAdjust="spacingAndGlyphs">Richard Newcombe, et al. Neural 3d video synthesis from multi-view video. In Proceedings of the IEEE/CVF Conference on Computer Vision and Pattern</text>
<text x="1086" y="928.5" textLength="68" lengthAdjust="spacingAndGlyphs">Recognition, pp. 5521–5531, 2022.</text>
</g>
</svg>

<!-- ===== TABLE 1 (D-NeRF) ===== -->
<div class="rule" style="left:1122px;top:280.5px;width:366px;height:1.3px"></div>
<div class="rule" style="left:1122px;top:297.5px;width:366px;height:0.8px"></div>
<div class="rule" style="left:1122px;top:338.5px;width:366px;height:0.8px"></div>
<div class="rule" style="left:1122px;top:412.5px;width:366px;height:1.2px"></div>
<div class="rule" style="left:1122px;top:439.5px;width:366px;height:1.3px"></div>
<div class="r h" style="top:284px;left:0"><span class="c" style="left:1122px;width:171px">Method</span><span class="c" style="left:1293px;width:43px">PSNR↑</span><span class="c" style="left:1336px;width:42px">SSIM↑</span><span class="c" style="left:1378px;width:75px">Training time↓</span><span class="c" style="left:1453px;width:35px">FPS↑</span></div>
<div class="r" style="top:300px"><span class="c" style="left:1122px;width:171px"><i>K</i>-Planes<sup style="font-size:6px">*</sup> (<span class="g">Fridovich-Keil et al.</span>, <span class="g">2023</span>)</span><span class="c" style="left:1293px;width:43px">30.67</span><span class="c" style="left:1336px;width:42px">0.9672</span><span class="c" style="left:1378px;width:75px">52 mins</span><span class="c" style="left:1453px;width:35px">0.97</span></div>
<div class="r" style="top:312px"><span class="c" style="left:1122px;width:171px">HexPlane<sup style="font-size:6px">*</sup> (<span class="g">Cao &amp; Johnson</span>, <span class="g">2023</span>)</span><span class="c" style="left:1293px;width:43px">31.02</span><span class="c" style="left:1336px;width:42px">0.9680</span><span class="c o" style="left:1378px;width:75px">11 mins</span><span class="c" style="left:1453px;width:35px">2.5</span></div>
<div class="r" style="top:324px"><span class="c" style="left:1122px;width:171px">TiNeuVox<sup style="font-size:6px">*</sup> (<span class="g">Fang et al.</span>, <span class="g">2022</span>)</span><span class="c" style="left:1293px;width:43px">31.35</span><span class="c" style="left:1336px;width:42px">0.9613</span><span class="c" style="left:1378px;width:75px">28 mins</span><span class="c" style="left:1453px;width:35px">1.5</span></div>
<div class="r" style="top:341px"><span class="c" style="left:1122px;width:171px">D-3DGS.<sup style="font-size:6px">†</sup> (<span class="g">Yang et al.</span>, <span class="g">2024b</span>)</span><span class="c" style="left:1293px;width:43px">38.50</span><span class="c" style="left:1336px;width:42px">0.9857</span><span class="c" style="left:1378px;width:75px">22 mins</span><span class="c" style="left:1453px;width:35px">70</span></div>
<div class="r" style="top:352.5px"><span class="c" style="left:1122px;width:171px">4D-GS<sup style="font-size:6px">*</sup> (<span class="g">Wu et al.</span>, <span class="g">2024</span>)</span><span class="c" style="left:1293px;width:43px">34.06</span><span class="c" style="left:1336px;width:42px">0.9787</span><span class="c y" style="left:1378px;width:75px">13 mins</span><span class="c" style="left:1453px;width:35px">62</span></div>
<div class="r" style="top:364px"><span class="c" style="left:1122px;width:171px">4DGS (<span class="g">Yang et al.</span>, <span class="g">2024a</span>)</span><span class="c" style="left:1293px;width:43px">32.87</span><span class="c" style="left:1336px;width:42px">0.9649</span><span class="c" style="left:1378px;width:75px">7.5 hours</span><span class="c y" style="left:1453px;width:35px">135</span></div>
<div class="r" style="top:375.5px"><span class="c" style="left:1122px;width:171px">CoGS<sup style="font-size:6px">†</sup> (<span class="g">Yu et al.</span>, <span class="g">2024</span>)</span><span class="c" style="left:1293px;width:43px">37.90</span><span class="c" style="left:1336px;width:42px">0.9842</span><span class="c" style="left:1378px;width:75px">-</span><span class="c" style="left:1453px;width:35px">-</span></div>
<div class="r" style="top:387px"><span class="c" style="left:1122px;width:171px">CompDynGS<sup style="font-size:6px">†</sup> (<span class="g">Katsumata et al.</span>, <span class="g">2024</span>)</span><span class="c" style="left:1293px;width:43px">33.21</span><span class="c" style="left:1336px;width:42px">0.9770</span><span class="c d" style="left:1378px;width:75px">8 mins</span><span class="c o" style="left:1453px;width:35px">150</span></div>
<div class="r" style="top:399px"><span class="c" style="left:1122px;width:171px">SC-GS (<span class="g">Huang et al.</span>, <span class="g">2024</span>)</span><span class="c d" style="left:1293px;width:43px">39.53</span><span class="c d" style="left:1336px;width:42px">0.9906</span><span class="c" style="left:1378px;width:75px">1.1 hours</span><span class="c" style="left:1453px;width:35px">111</span></div>
<div class="r" style="top:415px"><span class="c" style="left:1122px;width:171px">SplineGS (40K)</span><span class="c y" style="left:1293px;width:43px">39.11</span><span class="c y" style="left:1336px;width:42px">0.9866</span><span class="c" style="left:1378px;width:75px">17 mins</span><span class="c d" style="left:1453px;width:35px">188</span></div>
<div class="r" style="top:426.5px"><span class="c" style="left:1122px;width:171px">SplineGS (80K)</span><span class="c o" style="left:1293px;width:43px">39.44</span><span class="c o" style="left:1336px;width:42px">0.9868</span><span class="c" style="left:1378px;width:75px">35 mins</span><span class="c d" style="left:1453px;width:35px">188</span></div>

<!-- D-NeRF image labels -->
<div class="r" style="top:443px;font-size:7.3px"><span class="c" style="left:1096px;width:78px;text-align:left">4D-GS (<span class="g">Wu et al.</span>, <span class="g">2024</span>)</span><span class="c" style="left:1176px;width:80px;text-align:left">4DGS (<span class="g">Yang et al.</span>, <span class="g">2024a</span>)</span><span class="c" style="left:1257px;width:95px;text-align:left">D-3DGS (<span class="g">Yang et al.</span>, <span class="g">2024b</span>)</span></div>

<!-- ===== TABLE 2 (Neu3D) ===== -->
<div class="rule" style="left:1128px;top:546px;width:365px;height:1.3px"></div>
<div class="rule" style="left:1128px;top:562px;width:365px;height:0.8px"></div>
<div class="rule" style="left:1128px;top:590.5px;width:365px;height:0.8px"></div>
<div class="rule" style="left:1128px;top:642.5px;width:365px;height:0.8px"></div>
<div class="rule" style="left:1128px;top:669.5px;width:365px;height:1.3px"></div>
<div class="r h" style="top:549px"><span class="c" style="left:1128px;width:170px">Method</span><span class="c" style="left:1298px;width:43px">PSNR↑</span><span class="c" style="left:1341px;width:42px">SSIM↑</span><span class="c" style="left:1383px;width:75px">Training time↓</span><span class="c" style="left:1458px;width:35px">FPS↑</span></div>
<div class="r" style="top:565px"><span class="c" style="left:1128px;width:170px">NeRFPlayer<sup style="font-size:6px">*</sup> (<span class="g">Song et al.</span>, <span class="g">2023</span>)</span><span class="c" style="left:1298px;width:43px">32.12</span><span class="c" style="left:1341px;width:42px">0.9206</span><span class="c" style="left:1383px;width:75px">5.5 hours</span><span class="c" style="left:1458px;width:35px">0.045</span></div>
<div class="r" style="top:577px"><span class="c" style="left:1128px;width:170px"><i>K</i>-Planes<sup style="font-size:6px">*</sup> (<span class="g">Fridovich-Keil et al.</span>, <span class="g">2023</span>)</span><span class="c" style="left:1298px;width:43px">31.86</span><span class="c y" style="left:1341px;width:42px">0.9658</span><span class="c" style="left:1383px;width:75px">1.8 hours</span><span class="c" style="left:1458px;width:35px">0.23</span></div>
<div class="r" style="top:593.5px"><span class="c" style="left:1128px;width:170px">4D-GS<sup style="font-size:6px">*</sup> (<span class="g">Wu et al.</span>, <span class="g">2024</span>)</span><span class="c" style="left:1298px;width:43px">31.54</span><span class="c" style="left:1341px;width:42px">0.9444</span><span class="c o" style="left:1383px;width:75px">40 mins</span><span class="c" style="left:1458px;width:35px">30</span></div>
<div class="r" style="top:605px"><span class="c" style="left:1128px;width:170px">Gaussian-Flow<sup style="font-size:6px">‡</sup> (<span class="g">Lin et al.</span>, <span class="g">2024</span>)</span><span class="c" style="left:1298px;width:43px">32.00</span><span class="c o" style="left:1341px;width:42px">0.9700</span><span class="c y" style="left:1383px;width:75px">42 mins</span><span class="c" style="left:1458px;width:35px">-</span></div>
<div class="r" style="top:617px"><span class="c" style="left:1128px;width:170px">4DGS<sup style="font-size:6px">†</sup> (<span class="g">Yang et al.</span>, <span class="g">2024a</span>)</span><span class="c y" style="left:1298px;width:43px">32.53</span><span class="c" style="left:1341px;width:42px">-</span><span class="c" style="left:1383px;width:75px">-</span><span class="c o" style="left:1458px;width:35px">114</span></div>
<div class="r" style="top:629px"><span class="c" style="left:1128px;width:170px">STG<sup style="font-size:6px">†</sup> (<span class="g">Li et al.</span>, <span class="g">2024</span>)</span><span class="c o" style="left:1298px;width:43px">32.57</span><span class="c d" style="left:1341px;width:42px">0.9740</span><span class="c" style="left:1383px;width:75px">42 mins×6</span><span class="c d" style="left:1458px;width:35px">140</span></div>
<div class="r" style="top:645px"><span class="c" style="left:1128px;width:170px">SplineGS (20K)</span><span class="c" style="left:1298px;width:43px">32.52</span><span class="c" style="left:1341px;width:42px">0.9484</span><span class="c d" style="left:1383px;width:75px">27 mins</span><span class="c y" style="left:1458px;width:35px">76</span></div>
<div class="r" style="top:656.5px"><span class="c" style="left:1128px;width:170px">SplineGS (40K)</span><span class="c d" style="left:1298px;width:43px">32.60</span><span class="c" style="left:1341px;width:42px">0.9496</span><span class="c" style="left:1383px;width:75px">55 mins</span><span class="c y" style="left:1458px;width:35px">76</span></div>

<div class="r" style="top:677px;font-size:8.6px"><span class="c" style="left:1103px;width:95px">4D-GS (<span class="g">Wu et al.</span>, <span class="g">2024</span>)</span><span class="c" style="left:1207px;width:95px">STG (<span class="g">Li et al.</span>, <span class="g">2024</span>)</span></div>
</div>
</body></html>
